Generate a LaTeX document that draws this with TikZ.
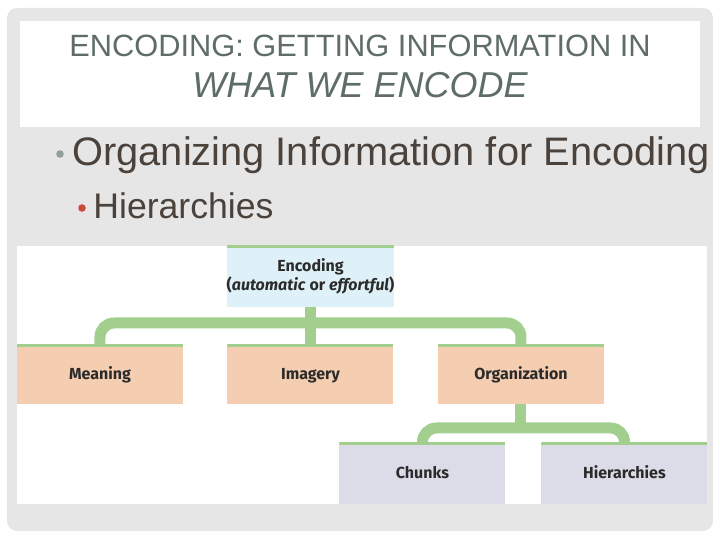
\documentclass[tikz,border=0pt]{standalone}
\usepackage{fontspec}
\setmainfont{Liberation Sans}
\newfontfamily\boxfont{Fira Sans}
\usepackage{tikz}
\usetikzlibrary{positioning,calc}
\definecolor{slidegray}{HTML}{E6E6E6}
\definecolor{titletext}{HTML}{5F6D68}
\definecolor{bodytext}{HTML}{4A423B}
\definecolor{dotgray}{HTML}{8FA09A}
\definecolor{dotred}{HTML}{CC4A3C}
\definecolor{linkgreen}{HTML}{A3CF8E}
\definecolor{topblue}{HTML}{DFF1F8}
\definecolor{midpeach}{HTML}{F5CDB0}
\definecolor{lowlilac}{HTML}{DCDCE9}
\definecolor{boxtext}{HTML}{2B2B2B}

\begin{document}
\begin{tikzpicture}[x=0.5pt,y=-0.5pt,
  box/.style={inner sep=0pt,minimum width=83pt,minimum height=29.5pt,align=center,
    font=\boxfont\bfseries\fontsize{8}{9.5}\selectfont,text=boxtext,
    path picture={\draw[line width=2pt,linkgreen] (path picture bounding box.north west) -- (path picture bounding box.north east);}},
  topbox/.style={box,fill=topblue,minimum width=82.5pt,minimum height=30.5pt},
  midbox/.style={box,fill=midpeach,text height=6.5pt,text depth=1.5pt},
  lowbox/.style={box,fill=lowlilac,minimum height=30.5pt,text height=6.5pt,text depth=1.5pt},
  link/.style={linkgreen,line width=5.5pt,rounded corners=7pt},
  dot/.style={circle,inner sep=0pt,minimum size=3.8pt},
  head/.style={anchor=base,text=titletext},
  item/.style={anchor=base west,text=bodytext,inner sep=0pt}]
\useasboundingbox (0,0) rectangle (720,540);
% ---------- slide ----------
\fill[slidegray,rounded corners=5pt] (7,8) rectangle (713,531);
\fill[white] (20,21) rectangle (700,127);
\fill[white] (17,246) rectangle (707,504);
% ---------- title and bullets ----------
\node[head,font=\fontsize{15.4}{17}\selectfont] (title1) at (360,57) {ENCODING: GETTING INFORMATION IN};
\node[head,font=\fontsize{18}{20}\selectfont\itshape] (title2) at (360,98) {WHAT WE ENCODE};
\node[dot,fill=dotgray] (b1) at (60,154) {};
\node[item,font=\fontsize{19.9}{22}\selectfont] (pt1) at (72,166) {Organizing Information for Encoding};
\node[dot,fill=dotred] (b2) at (82,208) {};
\node[item,font=\fontsize{17.8}{20}\selectfont] (pt2) at (93,219) {Hierarchies};
% ---------- hierarchy ----------
\node[topbox] (enc) at (310.5,276.5) {Encoding\\(\textit{automatic} or \textit{effortful})};
\node[midbox] (meaning) at (100,374.5) {Meaning};
\node[midbox] (imag) at (310.5,374.5) {Imagery};
\node[midbox] (org) at (521,374.5) {Organization};
\node[lowbox] (chunks) at (422.5,473.5) {Chunks};
\node[lowbox] (hier) at (624.5,473.5) {Hierarchies};
\coordinate (bar1) at (0,323);
\coordinate (bar2) at (0,428);
\draw[link] (enc.south) -- (imag.north);
\draw[link] (meaning.north) -- (meaning.north |- bar1) -- (org.north |- bar1) -- (org.north);
\draw[link] (org.south) -- (org.south |- bar2);
\draw[link] (chunks.north) -- (chunks.north |- bar2) -- (hier.north |- bar2) -- (hier.north);
\end{tikzpicture}
\end{document}
